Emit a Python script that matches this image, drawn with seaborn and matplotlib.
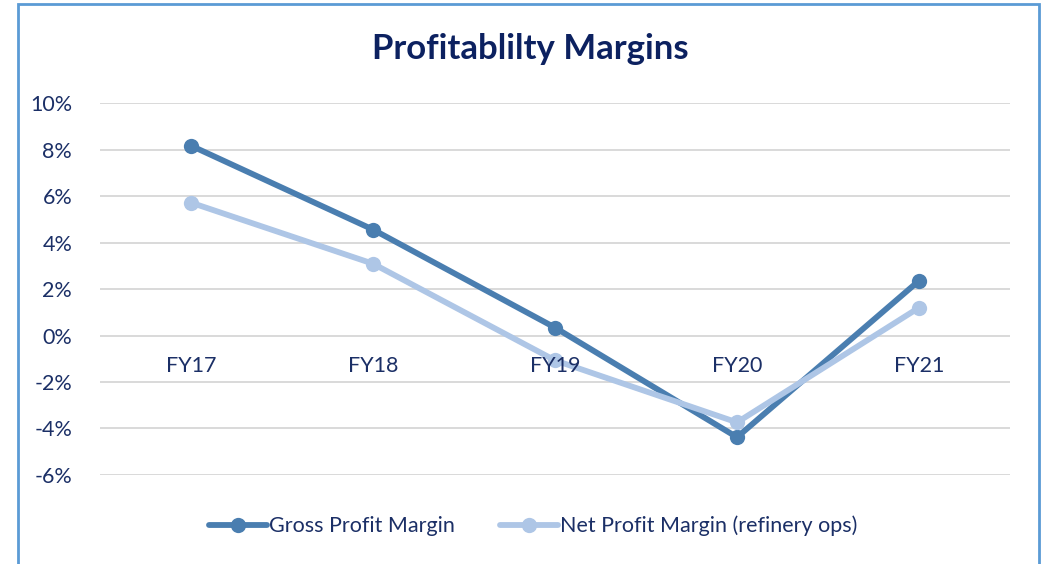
import matplotlib

matplotlib.use("Agg")

import matplotlib.pyplot as plt
import matplotlib.ticker as mtick
import pandas as pd
import seaborn as sns
from matplotlib.patches import Rectangle

years = ["FY17", "FY18", "FY19", "FY20", "FY21"]
gross_margin = [8.17, 4.56, 0.34, -4.38, 2.36]
net_margin = [5.72, 3.09, -1.07, -3.74, 1.20]
series_names = ["Gross Profit Margin", "Net Profit Margin (refinery ops)"]
y_ticks = [-6, -4, -2, 0, 2, 4, 6, 8, 10]

NAVY = "#1b2f66"
COLORS = ["#4a7eb0", "#aec6e6"]

df = pd.DataFrame({
    "year": years * 2,
    "margin": gross_margin + net_margin,
    "series": [series_names[0]] * len(years) + [series_names[1]] * len(years),
})

sns.set_theme(style="white")
plt.rcParams["font.family"] = ["Lato", "DejaVu Sans"]

fig = plt.figure(figsize=(10.43, 5.64), dpi=100)
ax = fig.add_axes([0.0959, 0.158, 0.8725, 0.659])

for name, color in zip(series_names, COLORS):
    sub = df[df["series"] == name]
    sns.lineplot(data=sub, x="year", y="margin", ax=ax, color=color, linewidth=4.2,
                 marker="o", markersize=11, markeredgewidth=0, label=name, sort=False)

ax.set_xlim(-0.5, len(years) - 0.5)
ax.set_ylim(-6, 10)
ax.set_yticks(y_ticks)
ax.yaxis.set_major_formatter(mtick.FuncFormatter(lambda v, _: f"{v:.0f}%"))
ax.grid(axis="y", color="#d9d9d9", linewidth=1.4)
ax.grid(axis="x", visible=False)
for side in ["left", "right", "top"]:
    ax.spines[side].set_visible(False)
ax.spines["bottom"].set_position(("data", 0))
ax.spines["bottom"].set_visible(False)
ax.tick_params(axis="x", length=0, pad=15, labelsize=15.5, labelcolor=NAVY)
ax.tick_params(axis="y", length=0, pad=20, labelsize=15.5, labelcolor=NAVY)
ax.xaxis.set_zorder(5)  # category labels sit on top of the lines
ax.set_xlabel("")
ax.set_ylabel("")

fig.text(0.508, 0.913, "Profitablilty Margins", ha="center", va="center",
         fontsize=25, fontweight="bold", color="#0c2160")

ax.legend(loc="center", bbox_to_anchor=(0.476, -0.137), ncol=2, frameon=False,
          fontsize=15.5, labelcolor=NAVY, handlelength=2.7, handletextpad=0.1,
          columnspacing=2.1)

fig.patches.append(Rectangle((0.0175, -0.02), 0.979, 1.013, transform=fig.transFigure,
                             fill=False, edgecolor="#5b9bd5", linewidth=2))

fig.savefig("out.png", dpi=100, facecolor="white")
